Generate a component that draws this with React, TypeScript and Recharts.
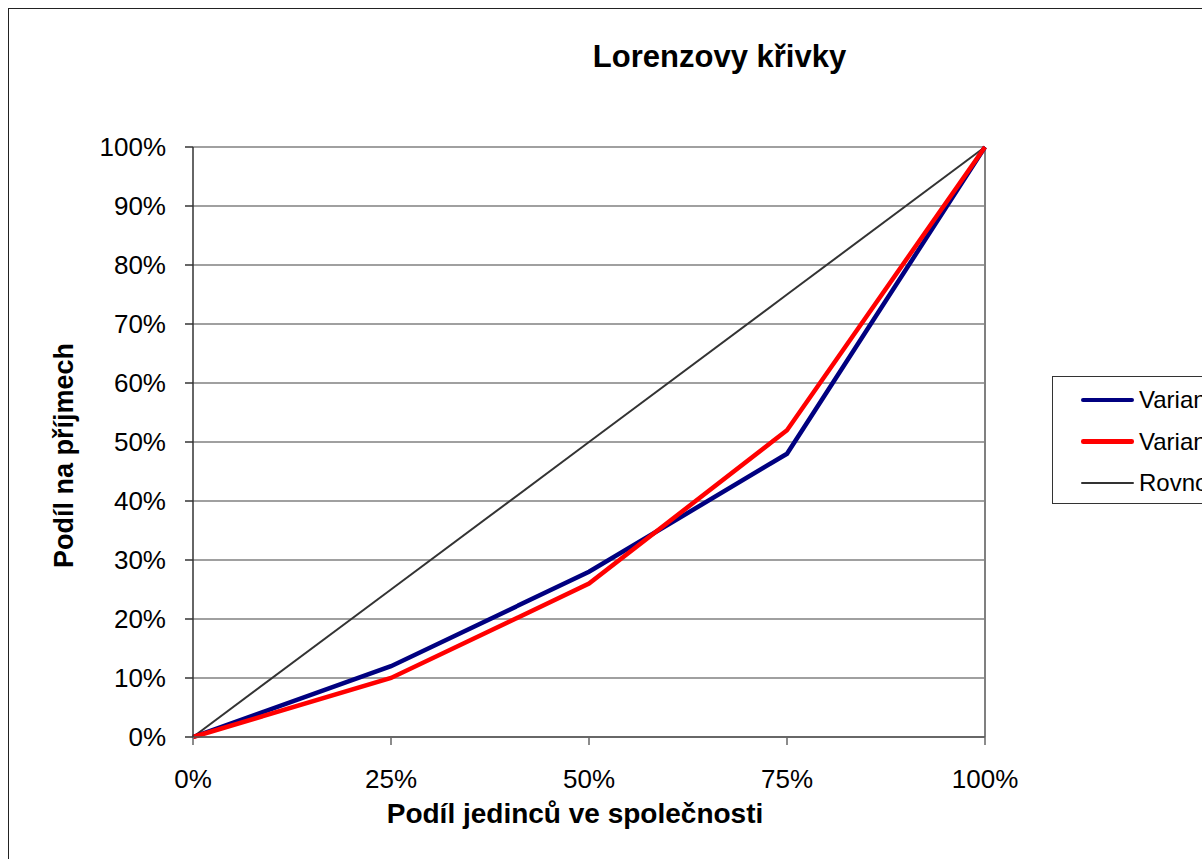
import React from "react"
import { LineChart, Line, XAxis, YAxis, CartesianGrid, Legend, ReferenceLine } from "recharts"

const shares = [0, 25, 50, 75, 100]
const variant1 = [0, 12, 28, 48, 100]
const variant2 = [0, 10, 26, 52, 100]
const equality = [0, 25, 50, 75, 100]

const yTicks = [0, 10, 20, 30, 40, 50, 60, 70, 80, 90, 100]

const series = [
  { key: "equality", name: "Rovnost", color: "#333333", width: 2 },
  { key: "v1", name: "Varianta 1", color: "#000080", width: 4.5 },
  { key: "v2", name: "Varianta 2", color: "#ff0000", width: 4.5 },
]

const legendOrder = ["v1", "v2", "equality"]

const data = shares.map((x, i) => ({
  x,
  v1: variant1[i],
  v2: variant2[i],
  equality: equality[i],
}))

const FONT = "'Liberation Sans', Arial, sans-serif"

function LegendBox() {
  return (
    <div
      style={{
        width: 190,
        height: 128,
        border: "1px solid #333",
        boxSizing: "border-box",
        background: "#fff",
        fontFamily: FONT,
        fontSize: 24,
        position: "relative",
      }}
    >
      {legendOrder.map((k, i) => {
        const s = series.find((e) => e.key === k)!
        const cy = 23 + i * 41.5
        return (
          <div key={k}>
            <div
              style={{
                position: "absolute",
                left: 28,
                top: cy - s.width / 2,
                width: 53,
                height: s.width,
                background: s.color,
                borderRadius: s.width / 2,
              }}
            />
            <div
              style={{
                position: "absolute",
                left: 86,
                top: cy - 14,
                lineHeight: "28px",
                whiteSpace: "nowrap",
                color: "#000",
              }}
            >
              {s.name}
            </div>
          </div>
        )
      })}
    </div>
  )
}

export default function App() {
  return (
    <div
      style={{
        position: "fixed",
        left: 8,
        top: 8,
        right: 0,
        bottom: 0,
        overflow: "hidden",
        background: "#fff",
      }}
    >
      <div
        style={{
          position: "absolute",
          left: 0,
          top: 0,
          width: 1300,
          height: 1000,
          border: "1px solid #222",
        }}
      />
      <div style={{ position: "absolute", left: 0, top: 0 }}>
        <LineChart
          width={1194}
          height={851}
          data={data}
          margin={{ top: 139, right: 217, left: 105, bottom: 62 }}
        >
          <CartesianGrid horizontal vertical={false} stroke="#808080" strokeWidth={1.5} />
          <XAxis
            dataKey="x"
            type="number"
            domain={[0, 100]}
            ticks={shares}
            height={60}
            tickFormatter={(v) => `${v}%`}
            tickSize={8}
            tickMargin={25}
            stroke="#555"
            tick={{ fill: "#000", fontSize: 26, fontFamily: FONT }}
            axisLine={{ stroke: "#555", strokeWidth: 1.5 }}
            tickLine={{ stroke: "#666", strokeWidth: 1.5 }}
          />
          <YAxis
            type="number"
            domain={[0, 100]}
            ticks={yTicks}
            width={80}
            tickFormatter={(v) => `${v}%`}
            tickSize={8}
            tickMargin={19}
            tick={{ fill: "#000", fontSize: 26, fontFamily: FONT }}
            axisLine={{ stroke: "#333", strokeWidth: 1.5 }}
            tickLine={{ stroke: "#333", strokeWidth: 1.5 }}
          />
          <ReferenceLine x={100} stroke="#808080" strokeWidth={2} />
          {series.map((s) => (
            <Line
              key={s.key}
              type="linear"
              dataKey={s.key}
              name={s.name}
              stroke={s.color}
              strokeWidth={s.width}
              dot={false}
              activeDot={false}
              isAnimationActive={false}
            />
          ))}
          <Legend
            layout="vertical"
            align="center"
            verticalAlign="middle"
            content={() => <LegendBox />}
            wrapperStyle={{ position: "absolute", left: 1044, top: 368, width: 190, height: 128 }}
          />
        </LineChart>
      </div>
      <svg
        width={1194}
        height={851}
        style={{ position: "absolute", left: 0, top: 0, pointerEvents: "none" }}
      >
        <text x={711.5} y={59} textAnchor="middle" fontFamily={FONT} fontWeight="bold" fontSize={31} fill="#000">
          Lorenzovy křivky
        </text>
        <text x={567} y={815} textAnchor="middle" fontFamily={FONT} fontWeight="bold" fontSize={28} fill="#000">
          Podíl jedinců ve společnosti
        </text>
        <text
          x={65}
          y={447.5}
          textAnchor="middle"
          fontFamily={FONT}
          fontWeight="bold"
          fontSize={27}
          fill="#000"
          transform="rotate(-90, 65, 447.5)"
        >
          Podíl na příjmech
        </text>
      </svg>
    </div>
  )
}
